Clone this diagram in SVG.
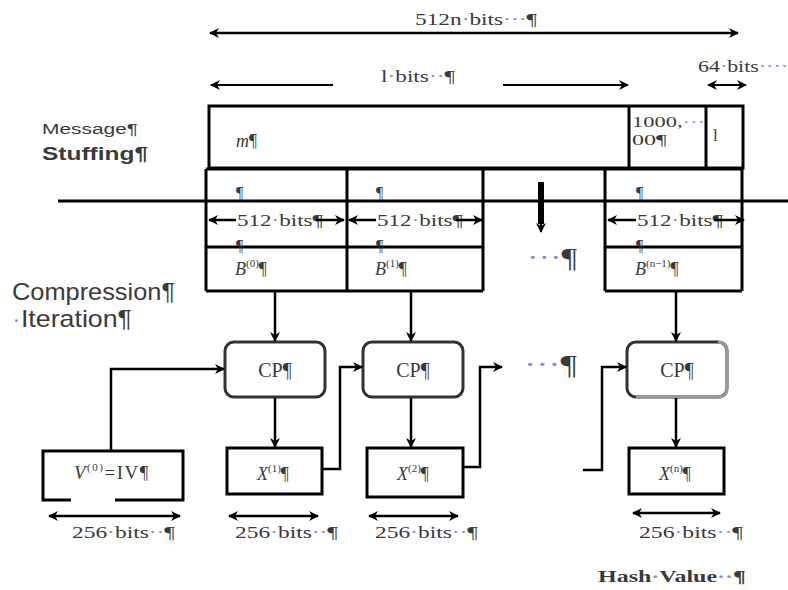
<svg xmlns="http://www.w3.org/2000/svg" width="788" height="590" viewBox="0 0 788 590">
<style>
.t{font-family:"Liberation Serif","Times New Roman",serif;fill:#3a3a3a}
.s{font-family:"Liberation Sans",Arial,sans-serif;fill:#3a3a3a}
.d{fill:#8a8ad8}
.i{font-style:italic}
.b{fill:none;stroke:#000;stroke-width:3}
.cp{fill:#fff;stroke:#333;stroke-width:3}
</style>
<defs>
<marker id="ah" viewBox="0 0 10 10" refX="9" refY="5" markerWidth="10" markerHeight="10" markerUnits="userSpaceOnUse" orient="auto-start-reverse">
<path d="M0,0 L10,5 L0,10 L3,5 z" fill="#000"/>
</marker>
</defs>

<g id="labels">
<text class="s" x="42" y="134" font-size="14" textLength="96" lengthAdjust="spacingAndGlyphs">Message¶</text>
<text class="s" x="42" y="160" font-size="19" font-weight="bold" textLength="106" lengthAdjust="spacingAndGlyphs">Stuffing¶</text>
<text class="s" x="12" y="300" font-size="24" textLength="163" lengthAdjust="spacingAndGlyphs">Compression¶</text>
<text class="s" x="12" y="327" font-size="24" textLength="120" lengthAdjust="spacingAndGlyphs"><tspan class="d">·</tspan>Iteration¶</text>
<text class="t" x="598" y="582" font-size="17" font-weight="bold" textLength="148" lengthAdjust="spacingAndGlyphs">Hash<tspan class="d">·</tspan>Value<tspan class="d">··</tspan>¶</text>
</g>

<g id="dimensions">
<text class="t" x="415" y="25" font-size="17" textLength="122" lengthAdjust="spacingAndGlyphs">512n<tspan class="d">·</tspan>bits<tspan class="d">···</tspan>¶</text>
<text class="t" x="381" y="82" font-size="17" textLength="74" lengthAdjust="spacingAndGlyphs">l<tspan class="d">·</tspan>bits<tspan class="d">··</tspan>¶</text>
<text class="t" x="698" y="72" font-size="16" textLength="90" lengthAdjust="spacingAndGlyphs">64<tspan class="d">·</tspan>bits<tspan class="d">····</tspan></text>
</g>

<g id="message">
<rect class="b" x="209" y="106" width="534" height="62"/>
<line class="b" x1="629" y1="106" x2="629" y2="168"/>
<line class="b" x1="706" y1="106" x2="706" y2="168"/>
<text class="t" x="236" y="147" font-size="18"><tspan class="i">m</tspan>¶</text>
<text class="t" x="632" y="127" font-size="15" textLength="73" lengthAdjust="spacingAndGlyphs">1000,<tspan class="d">···</tspan></text>
<text class="t" x="632" y="145" font-size="15" textLength="35" lengthAdjust="spacingAndGlyphs">00¶</text>
<text class="t" x="713" y="141" font-size="17">l</text>
</g>

<g id="blocks">
<path class="b" d="M206,169 H743 M206,169 V291 M347,169 V291 M483,169 V291 M605,169 V291 M742,169 V291 M206,247 H483 M605,247 H742 M206,291 H483 M605,291 H742"/>
<line class="b" x1="58" y1="201" x2="788" y2="201"/>
</g>

<g id="block0">
<text class="t" x="236" y="198" font-size="16">¶</text>
<text class="t" x="237" y="226" font-size="17" textLength="86" lengthAdjust="spacingAndGlyphs">512<tspan class="d">·</tspan>bits¶</text>
<text class="t" x="236" y="251" font-size="16">¶</text>
<text class="t" x="235" y="275" font-size="18"><tspan class="i">B</tspan><tspan font-size="11" dy="-8">(0)</tspan><tspan dy="8">¶</tspan></text>
</g>
<g id="block1">
<text class="t" x="376" y="198" font-size="16">¶</text>
<text class="t" x="377" y="226" font-size="17" textLength="86" lengthAdjust="spacingAndGlyphs">512<tspan class="d">·</tspan>bits¶</text>
<text class="t" x="376" y="251" font-size="16">¶</text>
<text class="t" x="375" y="275" font-size="18"><tspan class="i">B</tspan><tspan font-size="11" dy="-8">(1)</tspan><tspan dy="8">¶</tspan></text>
</g>
<g id="blockn">
<text class="t" x="636" y="198" font-size="16">¶</text>
<text class="t" x="637" y="226" font-size="17" textLength="86" lengthAdjust="spacingAndGlyphs">512<tspan class="d">·</tspan>bits¶</text>
<text class="t" x="636" y="251" font-size="16">¶</text>
<text class="t" x="635" y="275" font-size="18"><tspan class="i">B</tspan><tspan font-size="11" dy="-8">(n−1)</tspan><tspan dy="8">¶</tspan></text>
</g>
<g id="ellipsis1">
<text class="t" x="527" y="267" font-size="28" textLength="50" lengthAdjust="spacingAndGlyphs"><tspan class="d">···</tspan>¶</text>
</g>

<g id="cp1"><rect class="cp" x="225" y="342" width="100" height="55" rx="9"/><text class="t" x="275" y="377" font-size="20" text-anchor="middle">CP¶</text></g>
<g id="cp2"><rect class="cp" x="363" y="342" width="100" height="55" rx="9"/><text class="t" x="413" y="377" font-size="20" text-anchor="middle">CP¶</text></g>
<g id="cp3"><rect class="cp" x="627" y="342" width="100" height="55" rx="9"/><path d="M718,342 Q727,342 727,351 V388 Q727,397 718,397 H636" fill="none" stroke="#999" stroke-width="3"/><text class="t" x="677" y="377" font-size="20" text-anchor="middle">CP¶</text></g>
<g id="ellipsis2">
<text class="t" x="524" y="374" font-size="28" textLength="53" lengthAdjust="spacingAndGlyphs"><tspan class="d">···</tspan>¶</text>
</g>

<g id="iv">
<path class="b" d="M71,500 H43 V451 H183 V500 H115"/>
<text class="t" x="74" y="479" font-size="19" letter-spacing="1.5"><tspan class="i">V</tspan><tspan font-size="11" dy="-8">(0)</tspan><tspan dy="8">=IV¶</tspan></text>
</g>
<g id="x1"><rect class="b" x="227" y="448" width="95" height="46"/><text class="t" x="257" y="480" font-size="18"><tspan class="i">X</tspan><tspan font-size="11" dy="-8">(1)</tspan><tspan dy="8">¶</tspan></text></g>
<g id="x2"><rect class="b" x="367" y="448" width="96" height="49"/><text class="t" x="397" y="480" font-size="18"><tspan class="i">X</tspan><tspan font-size="11" dy="-8">(2)</tspan><tspan dy="8">¶</tspan></text></g>
<g id="xn"><rect class="b" x="629" y="448" width="95" height="46"/><text class="t" x="659" y="480" font-size="18"><tspan class="i">X</tspan><tspan font-size="11" dy="-8">(n)</tspan><tspan dy="8">¶</tspan></text></g>

<g id="sizes">
<text class="t" x="72" y="538" font-size="17" textLength="103" lengthAdjust="spacingAndGlyphs">256<tspan class="d">·</tspan>bits<tspan class="d">··</tspan>¶</text>
<text class="t" x="235" y="538" font-size="17" textLength="103" lengthAdjust="spacingAndGlyphs">256<tspan class="d">·</tspan>bits<tspan class="d">··</tspan>¶</text>
<text class="t" x="375" y="538" font-size="17" textLength="103" lengthAdjust="spacingAndGlyphs">256<tspan class="d">·</tspan>bits<tspan class="d">··</tspan>¶</text>
<text class="t" x="639" y="538" font-size="17" textLength="104" lengthAdjust="spacingAndGlyphs">256<tspan class="d">·</tspan>bits<tspan class="d">··</tspan>¶</text>
</g>

<g id="connectors" fill="none" stroke="#000">
<line x1="210" y1="33" x2="738" y2="33" stroke-width="2.5" marker-start="url(#ah)" marker-end="url(#ah)"/>
<line x1="333" y1="85" x2="211" y2="85" stroke-width="2" marker-end="url(#ah)"/>
<line x1="503" y1="85" x2="628" y2="85" stroke-width="2" marker-end="url(#ah)"/>
<line x1="708" y1="85" x2="746" y2="85" stroke-width="2" marker-start="url(#ah)" marker-end="url(#ah)"/>
<line x1="236" y1="220" x2="209" y2="220" stroke-width="2.5" marker-end="url(#ah)"/>
<line x1="316" y1="220" x2="344" y2="220" stroke-width="2.5" marker-end="url(#ah)"/>
<line x1="376" y1="220" x2="349" y2="220" stroke-width="2.5" marker-end="url(#ah)"/>
<line x1="456" y1="220" x2="482" y2="220" stroke-width="2.5" marker-end="url(#ah)"/>
<line x1="636" y1="220" x2="608" y2="220" stroke-width="2.5" marker-end="url(#ah)"/>
<line x1="714" y1="220" x2="744" y2="220" stroke-width="2.5" marker-end="url(#ah)"/>
<line x1="541" y1="182" x2="541" y2="224" stroke-width="6"/>
<line x1="541" y1="222" x2="541" y2="232" stroke-width="2" marker-end="url(#ah)"/>
<line x1="275" y1="292" x2="275" y2="341" stroke-width="2.5" marker-end="url(#ah)"/>
<line x1="411" y1="292" x2="411" y2="341" stroke-width="2.5" marker-end="url(#ah)"/>
<line x1="676" y1="292" x2="676" y2="341" stroke-width="2.5" marker-end="url(#ah)"/>
<line x1="275" y1="398" x2="275" y2="447" stroke-width="2.5" marker-end="url(#ah)"/>
<line x1="411" y1="398" x2="411" y2="447" stroke-width="2.5" marker-end="url(#ah)"/>
<line x1="676" y1="398" x2="676" y2="447" stroke-width="2.5" marker-end="url(#ah)"/>
<path d="M111,450 V369 H224" stroke-width="2.5" marker-end="url(#ah)"/>
<path d="M322,469 H340 V367 H362" stroke-width="2.5" marker-end="url(#ah)"/>
<path d="M463,467 H480 V367 H502" stroke-width="2.5" marker-end="url(#ah)"/>
<path d="M583,470 H602 V367 H626" stroke-width="2.5" marker-end="url(#ah)"/>
<line x1="49" y1="516" x2="180" y2="516" stroke-width="2.5" marker-start="url(#ah)" marker-end="url(#ah)"/>
<line x1="229" y1="516" x2="318" y2="516" stroke-width="2.5" marker-start="url(#ah)" marker-end="url(#ah)"/>
<line x1="369" y1="516" x2="458" y2="516" stroke-width="2.5" marker-start="url(#ah)" marker-end="url(#ah)"/>
<line x1="633" y1="513" x2="720" y2="513" stroke-width="2.5" marker-start="url(#ah)" marker-end="url(#ah)"/>
</g>
</svg>
